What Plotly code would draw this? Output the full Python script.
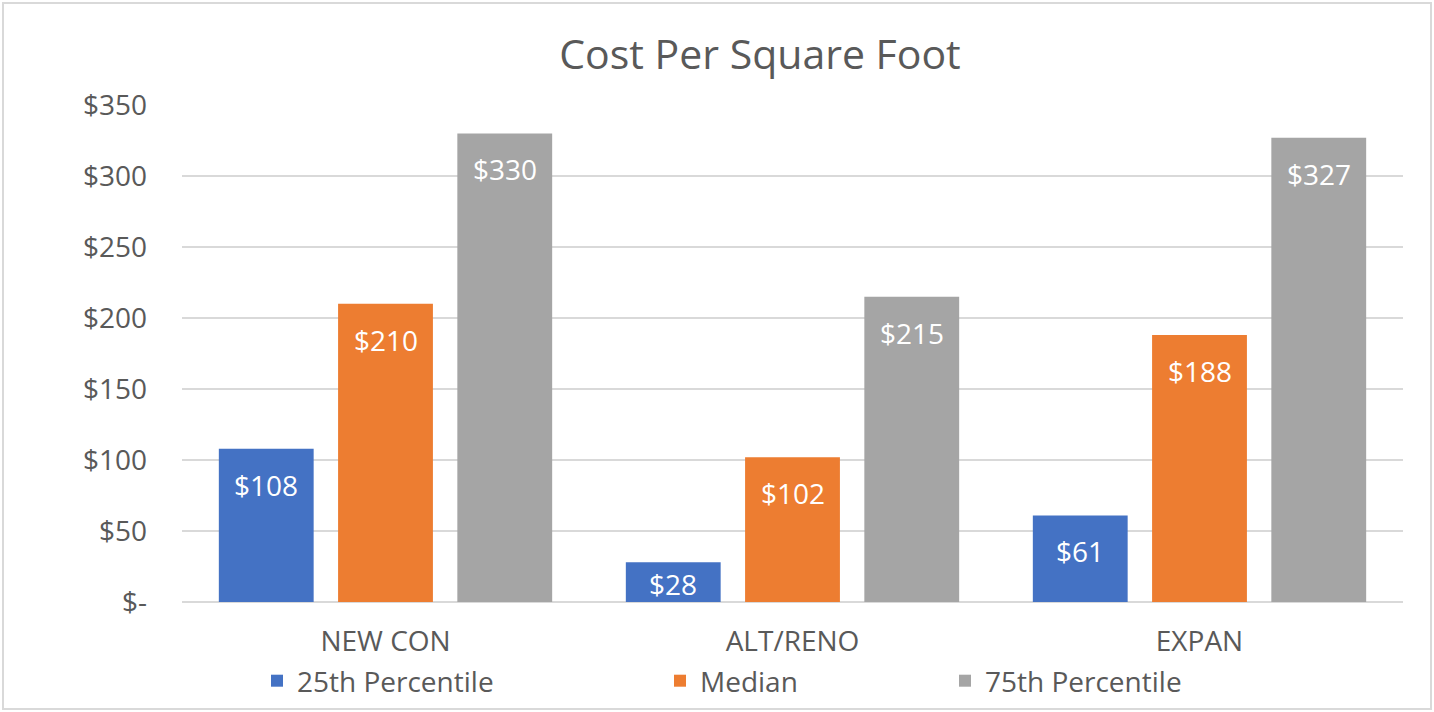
import plotly.graph_objects as go

categories = ["NEW CON", "ALT/RENO", "EXPAN"]
series_names = ["25th Percentile", "Median", "75th Percentile"]
p25 = [108, 28, 61]
median = [210, 102, 188]
p75 = [330, 215, 327]
colors = ["#4472C4", "#ED7D31", "#A5A5A5"]
tick_vals = [0, 50, 100, 150, 200, 250, 300, 350]
tick_text = ["$-", "$50", "$100", "$150", "$200", "$250", "$300", "$350"]

FONT = "Open Sans"
GRAY = "#595959"
FS = 28

W, H = 1434, 712
L, R, T, B = 182, 31, 105, 110
pw, ph = W - L - R, H - T - B
YMAX = 350

def px_x(x):
    return (x - L) / pw

def px_y(y):
    return (H - B - y) / ph

bar_w = 0.233
centers = [-0.293, 0.0, 0.293]
legend_left_px = [257, 660, 945]
legend_keys = ["legend", "legend2", "legend3"]

fig = go.Figure()
annotations = []
for k, (name, vals, col) in enumerate(zip(series_names, [p25, median, p75], colors)):
    fig.add_trace(go.Bar(
        x=categories, y=vals, name=name,
        marker=dict(color=col, line=dict(width=0)),
        width=bar_w, offset=centers[k] - bar_w / 2,
        hoverinfo="skip", legend=legend_keys[k],
    ))
    for i, v in enumerate(vals):
        bar_px = v * ph / YMAX
        drop = min(36, bar_px - 18)
        annotations.append(dict(
            x=i + centers[k], y=v, xref="x", yref="y",
            text=f"${v}", showarrow=False,
            yanchor="middle", xanchor="center", yshift=-drop,
            font=dict(family=FONT, size=FS, color="white"),
        ))

legends = {}
for k, key in enumerate(legend_keys):
    legends[key] = dict(
        orientation="h", xref="container", yref="container",
        x=legend_left_px[k] / W, xanchor="left",
        y=1 - 681 / H, yanchor="middle",
        font=dict(family=FONT, size=FS, color=GRAY),
        bgcolor="rgba(0,0,0,0)", itemclick=False, itemdoubleclick=False,
    )

fig.update_layout(
    width=W, height=H,
    margin=dict(l=L, r=R, t=T, b=B, autoexpand=False),
    paper_bgcolor="white", plot_bgcolor="white",
    barmode="overlay",
    title=dict(text="Cost Per Square Foot", x=760 / W, xanchor="center",
               y=1 - 55 / H, yanchor="middle",
               font=dict(family=FONT, size=41, color=GRAY)),
    font=dict(family=FONT, color=GRAY),
    showlegend=True,
    annotations=annotations,
    xaxis=dict(showgrid=False, showline=False, ticks="",
               tickfont=dict(family=FONT, size=FS, color=GRAY),
               ticklabelstandoff=20, fixedrange=True, automargin=False),
    yaxis=dict(range=[0, YMAX], tickvals=tick_vals, ticktext=tick_text,
               showgrid=True, gridcolor="#D9D9D9", gridwidth=2,
               zeroline=True, zerolinecolor="#D9D9D9", zerolinewidth=2,
               showline=False, ticks="",
               tickfont=dict(family=FONT, size=FS, color=GRAY),
               ticklabelstandoff=34, fixedrange=True, automargin=False),
    shapes=[dict(type="rect", xref="paper", yref="paper",
                 x0=px_x(3), x1=px_x(1431), y0=px_y(709), y1=px_y(3),
                 line=dict(color="#D9D9D9", width=2), fillcolor="rgba(0,0,0,0)",
                 layer="below")],
    **legends,
)

fig.write_html("out.html", config={"displayModeBar": False},
               post_script="document.body.style.margin='0';")
